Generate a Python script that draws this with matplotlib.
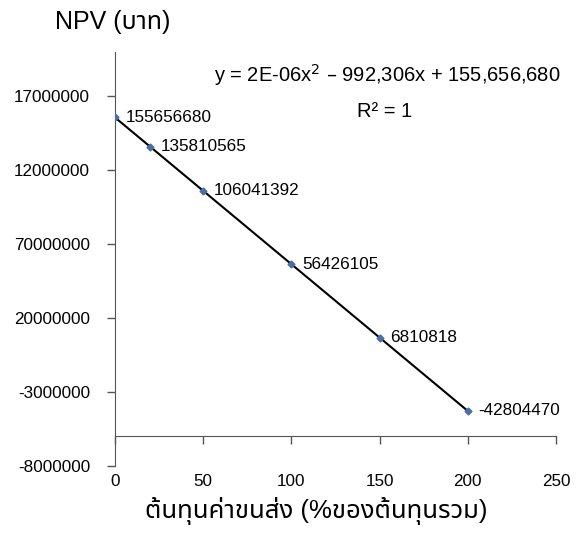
import matplotlib
matplotlib.use("Agg")
import matplotlib.pyplot as plt
import numpy as np

plt.rcParams["font.family"] = ["Liberation Sans", "Noto Sans Thai", "DejaVu Sans"]

# transport cost (% of total cost) vs NPV (baht)
cost_pct = [0, 20, 50, 100, 150, 200]
npv = [155656680, 135810565, 106041392, 56426105, 6810818, -42804470]

y_ticks = [-80000000, -30000000, 20000000, 70000000, 120000000, 170000000]
y_tick_labels = ["-8000000", "-3000000", "20000000", "70000000", "12000000", "17000000"]
x_ticks = [0, 50, 100, 150, 200, 250]

fig = plt.figure(figsize=(5.81, 5.35), dpi=100)
ax = fig.add_axes([0.198, 0.129, 0.759, 0.774])

# order-2 polynomial trendline, as in the spreadsheet
coef = np.polyfit(cost_pct, npv, 2)
xs = np.linspace(cost_pct[0], cost_pct[-1], 100)
ax.plot(xs, np.polyval(coef, xs), color="black", lw=1.5, zorder=2)
ax.plot(cost_pct, npv, ls="none", marker="D", ms=3.5, color="#4a6fa5", zorder=3)

for x, y in zip(cost_pct, npv):
    ax.annotate(f"{y}", (x, y), xytext=(7.5, 0), textcoords="offset points",
                va="center", ha="left", fontsize=12.3)

ax.set_xlim(0, 250)
ax.set_ylim(-80000000, 200000000)
ax.set_xticks(x_ticks)
ax.set_xticklabels([str(v) for v in x_ticks])
ax.set_yticks(y_ticks)
ax.set_yticklabels(y_tick_labels)

for side in ["top", "right"]:
    ax.spines[side].set_visible(False)
ax.spines["bottom"].set_position(("data", -60000000))
ax.spines["left"].set_color("#555555")
ax.spines["bottom"].set_color("#555555")
ax.tick_params(axis="both", direction="out", length=6, color="#555555", width=1,
               labelsize=12.3)
ax.tick_params(axis="x", pad=21)
ax.tick_params(axis="y", pad=12)

ax.text(0.617, 0.944, "y = 2E-06x$^2$ – 992,306x + 155,656,680", transform=ax.transAxes,
        ha="center", va="center", fontsize=14.5)
ax.text(0.612, 0.855, "R² = 1", transform=ax.transAxes,
        ha="center", va="center", fontsize=14.5)

fig.text(0.095, 0.958, "NPV (บาท)", ha="left", va="center", fontsize=18)
fig.text(0.544, 0.045, "ต้นทุนค่าขนส่ง (%ของต้นทุนรวม)", ha="center", va="center", fontsize=18.5)

fig.savefig("out.png", dpi=100)
